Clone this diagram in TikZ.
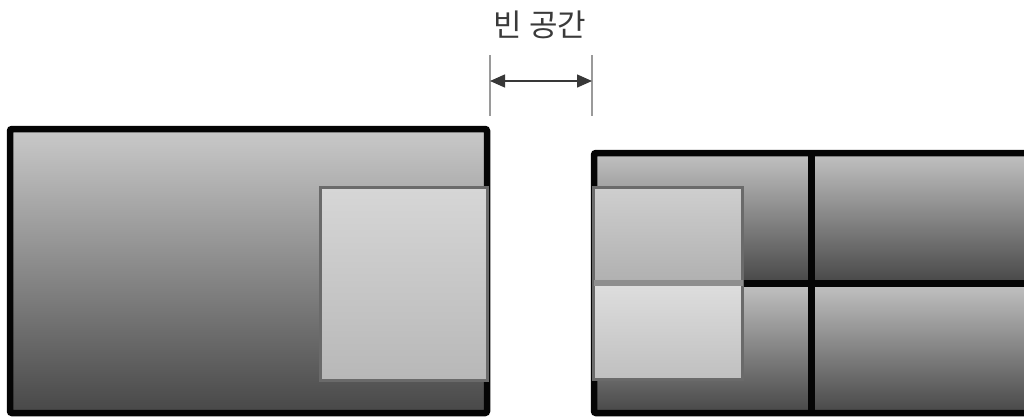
\documentclass[tikz,border=0pt]{standalone}
\usepackage{fontspec}
\newfontfamily\krfont{Noto Sans CJK KR}
\usetikzlibrary{arrows.meta}
\definecolor{frameblack}{HTML}{050505}
\definecolor{lightedge}{HTML}{6A6A6A}
\definecolor{bandgray}{HTML}{8E8E8E}
\definecolor{dimgray}{HTML}{9A9A9A}
\definecolor{arrowgray}{HTML}{383838}
\definecolor{textgray}{HTML}{3A3A3A}
\tikzset{
  cellbox/.style={inner sep=0pt, outer sep=0pt, anchor=north west, top color=#1, bottom color=black!72, draw=none},
  bigframe/.style={draw=frameblack, line width=6.5pt, rounded corners=2pt},
  lightbox/.style={inner sep=0pt, outer sep=0pt, anchor=north west, draw=lightedge, line width=3pt},
  dimline/.style={draw=dimgray, line width=1.3pt},
  dimarrow/.style={draw=arrowgray, line width=1.4pt, {Triangle[length=15pt,width=13pt]}-{Triangle[length=15pt,width=13pt]}},
  divider/.style={draw=frameblack, line width=6.5pt},
}
\begin{document}
\begin{tikzpicture}[x=1pt,y=-1pt]
\useasboundingbox (0,0) rectangle (1024,416);
\clip (0,0) rectangle (1024,416);

% left block
\node[cellbox=black!21, minimum width=477pt, minimum height=284pt, bigframe] (leftblock) at (10,129) {};
\node[lightbox, minimum width=167pt, minimum height=193pt, top color=black!16, bottom color=black!28] (leftsq) at (320.5,187.5) {};

% right block cells
\node[cellbox=black!24, minimum width=217.5pt, minimum height=130.3pt] (tl) at (594,153) {};
\node[cellbox=black!24, minimum width=228.5pt, minimum height=130.3pt] (tr) at (811.5,153) {};
\node[cellbox=black!24, minimum width=217.5pt, minimum height=129.7pt] (bl) at (594,283.3) {};
\node[cellbox=black!24, minimum width=228.5pt, minimum height=129.7pt] (br) at (811.5,283.3) {};
\draw[bigframe] (594,153) rectangle (1040,413);
\draw[divider] (tl.north east) -- (bl.south east);
\draw[divider] (bl.north west) -- (br.north east);

% right light squares
\node[lightbox, minimum width=149pt, minimum height=95.5pt, top color=black!19, bottom color=black!31] (rsqtop) at (593.5,187.5) {};
\node[lightbox, minimum width=149pt, minimum height=96.5pt, top color=black!13, bottom color=black!25] (rsqbot) at (593.5,283) {};
\draw[draw=bandgray, line width=6pt] (rsqtop.south west) -- (rsqtop.south east);

% dimension
\coordinate (da) at (490,81);
\coordinate (db) at (592,81);
\draw[dimline] (490,55) -- (490,116);
\draw[dimline] (592,55) -- (592,116);
\draw[dimarrow] (da) -- (db);
\node[text=textgray, font=\krfont\fontsize{31}{33}\selectfont, inner sep=0pt] (label) at (540,25) {빈 공간};
\end{tikzpicture}
\end{document}
